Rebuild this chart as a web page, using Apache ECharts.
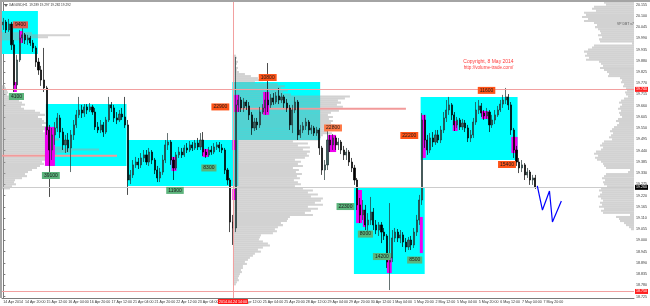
<!DOCTYPE html>
<html><head><meta charset="utf-8">
<script src="https://cdn.jsdelivr.net/npm/echarts@6/dist/echarts.min.js"></script>
<style>html,body{margin:0;padding:0;background:#fff}#c{width:650px;height:306px}</style>
</head><body><div id="c"></div>
<script>
// ---------- data ----------
const barCount = 234;                       // 2-hour slots incl. empty right margin
const categories = Array.from({length: barCount}, (_, i) => 'b' + i);
const xTickLabels = ['14 Apr 2014','14 Apr 20:00','15 Apr 12:00','16 Apr 04:00','16 Apr 20:00','17 Apr 12:00',
  '21 Apr 04:00','21 Apr 20:00','22 Apr 12:00','23 Apr 04:00','23 Apr 20:00','24 Apr 12:00','25 Apr 04:00',
  '25 Apr 20:00','28 Apr 12:00','29 Apr 04:00','29 Apr 20:00','30 Apr 12:00','1 May 04:00','1 May 20:00',
  '2 May 12:00','5 May 04:00','5 May 20:00','6 May 12:00','7 May 04:00','7 May 20:00'];
const yTickValues = [18.725,18.780,18.835,18.890,18.945,19.000,19.055,19.110,19.165,19.220,19.275,19.330,
  19.385,19.440,19.495,19.550,19.605,19.660,19.715,19.770,19.825,19.880,19.935,19.990,20.045,20.100,20.155];
// [open, close, low, high]
const candles = [
[20.056,20.070,20.031,20.090],[20.070,20.031,20.016,20.080],[20.031,20.060,20.021,20.085],[20.060,19.958,19.933,20.070],
[19.958,19.762,19.727,19.982],[19.762,19.884,19.737,19.909],[19.884,19.992,19.874,20.031],[19.992,20.007,19.967,20.070],
[20.007,19.982,19.962,20.016],[19.982,19.992,19.958,20.007],[19.992,19.967,19.953,20.002],[19.967,19.943,19.923,19.982],
[19.943,19.874,19.850,19.953],[19.874,19.835,19.811,19.894],[19.835,19.786,19.757,19.855],[19.786,19.747,19.727,19.943],
[19.747,19.541,19.517,19.757],[19.541,19.443,19.213,19.566],[19.443,19.517,19.394,19.551],[19.517,19.551,19.468,19.580],
[19.551,19.600,19.531,19.624],[19.600,19.531,19.502,19.615],[19.531,19.468,19.443,19.551],[19.468,19.492,19.428,19.517],
[19.492,19.453,19.433,19.526],[19.453,19.517,19.335,19.541],[19.517,19.566,19.492,19.590],[19.566,19.615,19.551,19.639],
[19.615,19.639,19.600,19.703],[19.639,19.624,19.600,19.664],[19.624,19.654,19.605,19.668],[19.654,19.639,19.619,19.668],
[19.639,19.654,19.629,19.673],[19.654,19.629,19.615,19.664],[19.629,19.556,19.541,19.649],[19.556,19.541,19.526,19.580],
[19.541,19.566,19.526,19.590],[19.566,19.531,19.507,19.580],[19.531,19.590,19.521,19.605],[19.590,19.664,19.580,19.703],
[19.664,19.649,19.629,19.678],[19.649,19.600,19.580,19.664],[19.600,19.590,19.570,19.629],[19.590,19.619,19.580,19.639],
[19.619,19.605,19.590,19.649],[19.605,19.566,19.551,19.703],[19.566,19.296,19.223,19.590],[19.296,19.321,19.276,19.345],
[19.321,19.370,19.306,19.394],[19.370,19.384,19.355,19.409],[19.384,19.370,19.350,19.404],[19.370,19.404,19.355,19.428],
[19.404,19.419,19.384,19.443],[19.419,19.384,19.370,19.443],[19.384,19.433,19.365,19.453],[19.433,19.394,19.374,19.443],
[19.394,19.345,19.325,19.404],[19.345,19.306,19.286,19.365],[19.306,19.335,19.286,19.355],[19.335,19.394,19.321,19.419],
[19.394,19.468,19.379,19.492],[19.468,19.482,19.443,19.526],[19.482,19.394,19.370,19.492],[19.394,19.355,19.296,19.409],
[19.355,19.419,19.345,19.433],[19.419,19.433,19.404,19.458],[19.433,19.419,19.404,19.453],[19.419,19.453,19.409,19.468],
[19.453,19.443,19.428,19.477],[19.443,19.468,19.433,19.487],[19.468,19.453,19.438,19.482],[19.453,19.477,19.443,19.492],
[19.477,19.458,19.443,19.502],[19.458,19.492,19.443,19.526],[19.492,19.433,19.414,19.531],[19.433,19.419,19.404,19.448],
[19.419,19.443,19.409,19.458],[19.443,19.433,19.419,19.463],[19.433,19.458,19.423,19.477],[19.458,19.468,19.443,19.482],
[19.468,19.453,19.433,19.482],[19.453,19.443,19.428,19.472],[19.443,19.345,19.325,19.453],[19.345,19.296,19.272,19.355],
[19.296,19.090,19.041,19.306],[19.090,19.061,18.978,19.125],[19.061,19.664,19.041,19.899],[19.664,19.688,19.629,19.713],
[19.688,19.649,19.629,19.703],[19.649,19.678,19.629,19.698],[19.678,19.659,19.639,19.688],[19.659,19.615,19.590,19.678],
[19.615,19.551,19.517,19.629],[19.551,19.580,19.536,19.600],[19.580,19.566,19.541,19.600],[19.566,19.629,19.551,19.654],
[19.629,19.649,19.619,19.668],[19.649,19.688,19.615,19.727],[19.688,19.664,19.629,19.869],[19.664,19.698,19.649,19.717],
[19.698,19.678,19.664,19.722],[19.678,19.708,19.668,19.727],[19.708,19.688,19.668,19.747],[19.688,19.703,19.673,19.722],
[19.703,19.673,19.649,19.713],[19.673,19.649,19.629,19.693],[19.649,19.566,19.541,19.664],[19.566,19.639,19.526,19.664],
[19.639,19.678,19.624,19.703],[19.678,19.517,19.492,19.688],[19.517,19.541,19.502,19.566],[19.541,19.561,19.526,19.580],
[19.561,19.580,19.541,19.600],[19.580,19.541,19.517,19.590],[19.541,19.551,19.521,19.566],[19.551,19.526,19.512,19.561],
[19.526,19.541,19.512,19.556],[19.541,19.453,19.419,19.551],[19.453,19.345,19.321,19.463],[19.345,19.370,19.296,19.394],
[19.370,19.492,19.345,19.541],[19.492,19.468,19.433,19.517],[19.468,19.502,19.443,19.521],[19.502,19.468,19.443,19.512],
[19.468,19.482,19.443,19.502],[19.482,19.443,19.423,19.492],[19.443,19.419,19.394,19.463],[19.419,19.433,19.394,19.453],
[19.433,19.384,19.365,19.443],[19.384,19.355,19.335,19.404],[19.355,19.296,19.272,19.370],[19.296,19.174,19.149,19.306],
[19.174,19.125,19.085,19.208],[19.125,19.149,19.100,19.198],[19.149,19.076,19.051,19.174],[19.076,19.100,19.036,19.134],
[19.100,19.139,19.076,19.213],[19.139,19.076,19.051,19.159],[19.076,19.051,19.031,19.100],[19.051,19.076,19.022,19.090],
[19.076,19.041,18.987,19.090],[19.041,19.022,19.002,19.061],[19.022,18.894,18.865,19.031],[18.894,18.914,18.757,19.183],
[18.914,19.012,18.894,19.051],[19.012,19.041,18.992,19.061],[19.041,19.012,18.992,19.056],[19.012,19.027,18.987,19.051],
[19.027,18.992,18.968,19.041],[18.992,18.968,18.943,19.012],[18.968,19.002,18.953,19.017],[19.002,18.978,18.953,19.022],
[18.978,19.041,18.963,19.061],[19.041,19.100,19.022,19.125],[19.100,19.198,19.076,19.223],[19.198,19.590,19.174,19.624],
[19.590,19.492,19.453,19.615],[19.492,19.443,19.419,19.517],[19.443,19.502,19.428,19.526],[19.502,19.482,19.458,19.531],
[19.482,19.517,19.468,19.541],[19.517,19.492,19.477,19.541],[19.492,19.541,19.477,19.561],[19.541,19.600,19.526,19.629],
[19.600,19.639,19.580,19.688],[19.639,19.664,19.615,19.703],[19.664,19.615,19.590,19.673],[19.615,19.566,19.536,19.629],
[19.566,19.590,19.551,19.605],[19.590,19.556,19.541,19.600],[19.556,19.575,19.541,19.595],[19.575,19.551,19.531,19.590],
[19.551,19.502,19.482,19.566],[19.502,19.517,19.482,19.541],[19.517,19.580,19.502,19.600],[19.580,19.639,19.566,19.678],
[19.639,19.659,19.619,19.688],[19.659,19.624,19.605,19.673],[19.624,19.610,19.590,19.639],[19.610,19.629,19.595,19.649],
[19.629,19.566,19.531,19.639],[19.566,19.590,19.551,19.615],[19.590,19.615,19.570,19.639],[19.615,19.639,19.605,19.659],
[19.639,19.668,19.629,19.688],[19.668,19.688,19.649,19.713],[19.688,19.703,19.668,19.747],[19.703,19.664,19.639,19.717],
[19.664,19.541,19.517,19.678],[19.541,19.443,19.404,19.551],[19.443,19.384,19.365,19.463],[19.384,19.355,19.330,19.404],
[19.355,19.370,19.335,19.394],[19.370,19.321,19.296,19.379],[19.321,19.335,19.306,19.355],[19.335,19.296,19.272,19.345],
[19.296,19.306,19.272,19.321],[19.306,19.262,19.252,19.321]
];
// zones: [fromBar, toBar, topPrice, bottomPrice]
const cyanZones = [[-0.5,12.8,20.124,19.913],[15.75,45.6,19.668,19.365],[46.0,87.0,19.492,19.267],
  [84.8,117.3,19.776,19.492],[129.8,156.0,19.257,18.835],[154.5,190.4,19.703,19.394]];
const volumeSpikes = [[3.9,5.0,19.776,19.727],[5.8,7.3,20.026,19.967],[15.4,19.1,19.556,19.365],[62.3,64.1,19.409,19.340],
  [73.7,75.9,19.448,19.409],[84.8,86.3,19.252,19.198],[84.8,86.3,19.492,19.443],[85.5,87.4,19.713,19.629],
  [96.2,98.4,19.727,19.615],[120.2,123.2,19.517,19.433],[130.6,132.8,19.247,19.085],[133.1,134.2,19.149,19.066],
  [142.0,143.8,18.919,18.840],[154.2,155.3,19.115,18.938],[154.9,156.4,19.615,19.404],[166.4,168.2,19.585,19.536],
  [177.1,179.6,19.634,19.595],[188.1,190.4,19.507,19.428]];
const volumeLabelTexts = ['9400','4100','39100','11900','8300','22900','10800','22800','22200','11600','15400','22300','8000','14200','8500'];
const volumeLabelBars   = [6.33,4.85,17.59,63.55,76.1,80.34,97.88,122.06,150.3,178.9,186.47,126.67,134.05,140.14,152.3];
const volumeLabelPrices = [20.056,19.705,19.318,19.245,19.355,19.654,19.798,19.551,19.514,19.735,19.372,19.166,19.031,18.921,18.904];
const volumeLabelKinds  = [1,0,0,0,0,2,2,3,2,2,2,0,0,0,0];
// volume profiles: rows of 0.01 price starting at profileTopPrice - startBin*0.01
const profileTopPrice = 20.17, profileStep = 0.01;
const topLeftProfileVolumes = [30,68,46,20];          // startBin 15
const leftProfileVolumes = [3,4,5,6,5,8,7, 17,20,23,19,22, 33,38,43,36,40, 42,45,40,47,44,41,
  48,52,45,57,50,47,53, 60,97,70,55, 115, 43,45,40,42,38,35, 30,26,23,25,20, 13,12,14,10,8]; // startBin 41
const middleProfileVolumes = [3,4,3,5,4,3,5,4,6, 12,18,25,30,22, 45,52,48,55,50,58, 117,112, 105,108,104,110, 173, 106,
  98,95,100,96, 100,98,102,97,100,95,99, 90,88,85, 60,75,65,77,70, 77,74,76,72,
  62,68,65,70,60,66,63,69,64,67,61,65,68,62, 70,80,75,85,78,90, 88,82,90,75,85,78,72,80, 57,55,
  54,48,50,45,42,44,40, 28,27,26,30, 35,37,30,25,28,22,20, 17,15,12,14,10, 10,8,9,7,6,5,6,4,3]; // startBin 26
const rightProfileVolumes = [30,28, 40,42,38, 50,48,52,46,50, 40,37,39,36, 34,33,36,32,35,34, 2,40,42,
  46,50,47,49,45,48, 35,33,31,34,30, 27,25,26, 14,12,13,10,11, 8,7,9,8,6,10,
  13,15,12,14,16,13,15,14,12,16,18,15,17,20, 22,24,21,23,25,22, 30,32,34,31,33, 38,40,36,39,37,
  33,31,30,28, 4,6, 28,30,32,29,31,30,27, 33,35,32,34,36,33,31,34,32,35,30,33,31, 4, 18,15,14, 10,8,5,3]; // startBin 0
const forecastPath = [[197.7,19.267],[199.6,19.149],[202.2,19.242],[203.3,19.090],[206.6,19.193]];
const levelPrices = [19.742, 18.751];
const bidPrice = 19.262;
const markerBar = 85;
const markerTimeLabel = '2014.04.24 14:00';

// ---------- build ----------
function buildProfile(anchor, dir, startBin, vols, poc) {
  const max = Math.max(...vols);
  return vols.map((v, k) => {
    const top = profileTopPrice - (startBin + k) * profileStep;
    return [anchor, top, top - profileStep, v, dir, (poc && v === max) ? 1 : 0];
  });
}
const profileRows = [].concat(
  buildProfile(-0.5, 1, 15, topLeftProfileVolumes, false),
  buildProfile(-0.5, 1, 41, leftProfileVolumes, true),
  buildProfile(markerBar, 1, 26, middleProfileVolumes, true),
  buildProfile(233.5, -1, 0, rightProfileVolumes, false)
);
const labelRows = volumeLabelTexts.map((t, i) => [volumeLabelBars[i], volumeLabelPrices[i], i]);
const kindBg = ['#5cb47c', '#dc5a50', '#ff5418', '#ff7a48'];

function rectRenderer(fill, opacity) {
  return function (params, api) {
    const a = api.coord([api.value(0), api.value(2)]);
    const b = api.coord([api.value(1), api.value(3)]);
    return {type: 'rect', shape: {x: a[0], y: a[1], width: b[0] - a[0], height: b[1] - a[1]},
      style: {fill: fill, opacity: opacity}};
  };
}
const volPx = 1;
function renderProfile(params, api) {
  const a = api.coord([api.value(0), api.value(1)]);
  const b = api.coord([api.value(0), api.value(2)]);
  const w = api.value(3) * volPx * api.value(4);
  const poc = api.value(5) === 1;
  return {type: 'rect', shape: {x: Math.min(a[0], a[0] + w), y: a[1], width: Math.abs(w), height: b[1] - a[1]},
    style: {fill: poc ? '#f29a9a' : '#a6a6a6', opacity: poc ? 1 : 0.5}};
}
function renderLabel(params, api) {
  const i = api.value(2);
  const p = api.coord([api.value(0), api.value(1)]);
  return {type: 'text', x: p[0], y: p[1],
    style: {text: volumeLabelTexts[i], fill: '#1c1c1c', fontSize: 5, fontFamily: 'Liberation Sans, Arial, sans-serif',
      align: 'center', verticalAlign: 'middle', backgroundColor: kindBg[volumeLabelKinds[i]], padding: [1, 2, 1, 2]}};
}

const chart = echarts.init(document.getElementById('c'));
const lblFont = 'Liberation Sans, Arial, sans-serif';
function priceTag(bg) {
  return {show: true, position: 'end', distance: 1, formatter: (p) => p.value.toFixed(3),
    backgroundColor: bg, color: '#fff', fontSize: 3.6, fontFamily: lblFont, padding: [1, 1, 0, 1]};
}
chart.setOption({
  animation: false,
  backgroundColor: '#ffffff',
  grid: {left: 2, right: 14, top: 2, bottom: 8},
  xAxis: [
    {type: 'category', data: categories, boundaryGap: true,
      axisLine: {lineStyle: {color: '#7a7a7a', width: 1}},
      axisTick: {interval: 7, alignWithLabel: true, length: 2, lineStyle: {color: '#7a7a7a'}},
      axisLabel: {interval: 7, align: 'left', margin: 2, fontSize: 3.6, color: '#333', fontFamily: lblFont,
        formatter: (v, idx) => xTickLabels[idx / 8] || ''},
      splitLine: {show: false}},
    {type: 'value', min: -0.5, max: barCount - 0.5, show: false}
  ],
  yAxis: {type: 'value', position: 'right', min: 18.718, max: 20.168, splitLine: {show: false},
    axisLine: {show: true, lineStyle: {color: '#7a7a7a'}},
    axisTick: {show: true, length: 2, customValues: yTickValues, lineStyle: {color: '#7a7a7a'}},
    axisLabel: {customValues: yTickValues, fontSize: 3.6, color: '#333', margin: 2, fontFamily: lblFont,
      formatter: (v) => v.toFixed(3)}},
  graphic: [
    {type: 'rect', shape: {x: 0, y: 0, width: 650, height: 2}, style: {fill: '#a4a4a4'}, z: 100},
    {type: 'rect', shape: {x: 0, y: 0, width: 2, height: 298}, style: {fill: '#a4a4a4'}, z: 100},
    {type: 'polygon', shape: {points: [[4, 4], [8, 4], [6, 7]]}, style: {fill: '#666'}, z: 100},
    {type: 'text', x: 9, y: 3.5, style: {text: 'XAGUSD,H1  19.289 19.297 19.282 19.292', fontSize: 3.2, fill: '#333', fontFamily: lblFont}, z: 100},
    {type: 'text', x: 617, y: 22.5, style: {text: 'VP DBT v7', fontSize: 3.4, fill: '#555', fontFamily: lblFont}, z: 100},
    {type: 'text', x: 488.5, y: 59, style: {text: 'Copyright, 8 May 2014', fontSize: 5, fill: '#ff3a3a', align: 'center', fontFamily: lblFont}, z: 100},
    {type: 'text', x: 488.5, y: 65.5, style: {text: 'http://volume-trade.com/', fontSize: 4.6, fill: '#ff3a3a', align: 'center', fontFamily: lblFont}, z: 100}
  ],
  series: [
    {type: 'custom', xAxisIndex: 1, silent: true, z: 1, renderItem: rectRenderer('#00ffff', 1), data: cyanZones},
    {type: 'custom', xAxisIndex: 1, silent: true, z: 2, renderItem: renderProfile, data: profileRows},
    {type: 'custom', xAxisIndex: 1, silent: true, z: 3, renderItem: rectRenderer('#ee00ee', 1), data: volumeSpikes},
    {type: 'candlestick', xAxisIndex: 0, silent: true, z: 4, barWidth: 1.6, data: candles,
      itemStyle: {color: '#3d5e5e', color0: '#000000', borderColor: '#223535', borderColor0: '#000000', borderWidth: 0.7}},
    {type: 'line', xAxisIndex: 1, silent: true, z: 5, clip: false, symbol: 'none', data: forecastPath,
      lineStyle: {color: '#0000ff', width: 1.2},
      markLine: {silent: true, symbol: ['none', 'none'], animation: false,
        data: [
          {yAxis: levelPrices[0], lineStyle: {color: '#f2a0a0', width: 1, type: 'solid'}, label: priceTag('#ff2020')},
          {yAxis: levelPrices[1], lineStyle: {color: '#f2a0a0', width: 1, type: 'solid'}, label: priceTag('#ff2020')},
          {yAxis: bidPrice, lineStyle: {color: '#cccccc', width: 1, type: 'solid'}, label: priceTag('#000000')},
          {xAxis: markerBar, lineStyle: {color: '#f2a0a0', width: 1, type: 'solid'},
            label: {show: true, position: 'start', distance: 1, formatter: markerTimeLabel, backgroundColor: '#ff1a1a',
              color: '#fff', fontSize: 3.6, fontFamily: lblFont, padding: [1, 1, 0, 1]}}
        ]}},
    {type: 'custom', xAxisIndex: 1, silent: true, z: 6, renderItem: renderLabel, data: labelRows}
  ]
});
</script></body></html>
